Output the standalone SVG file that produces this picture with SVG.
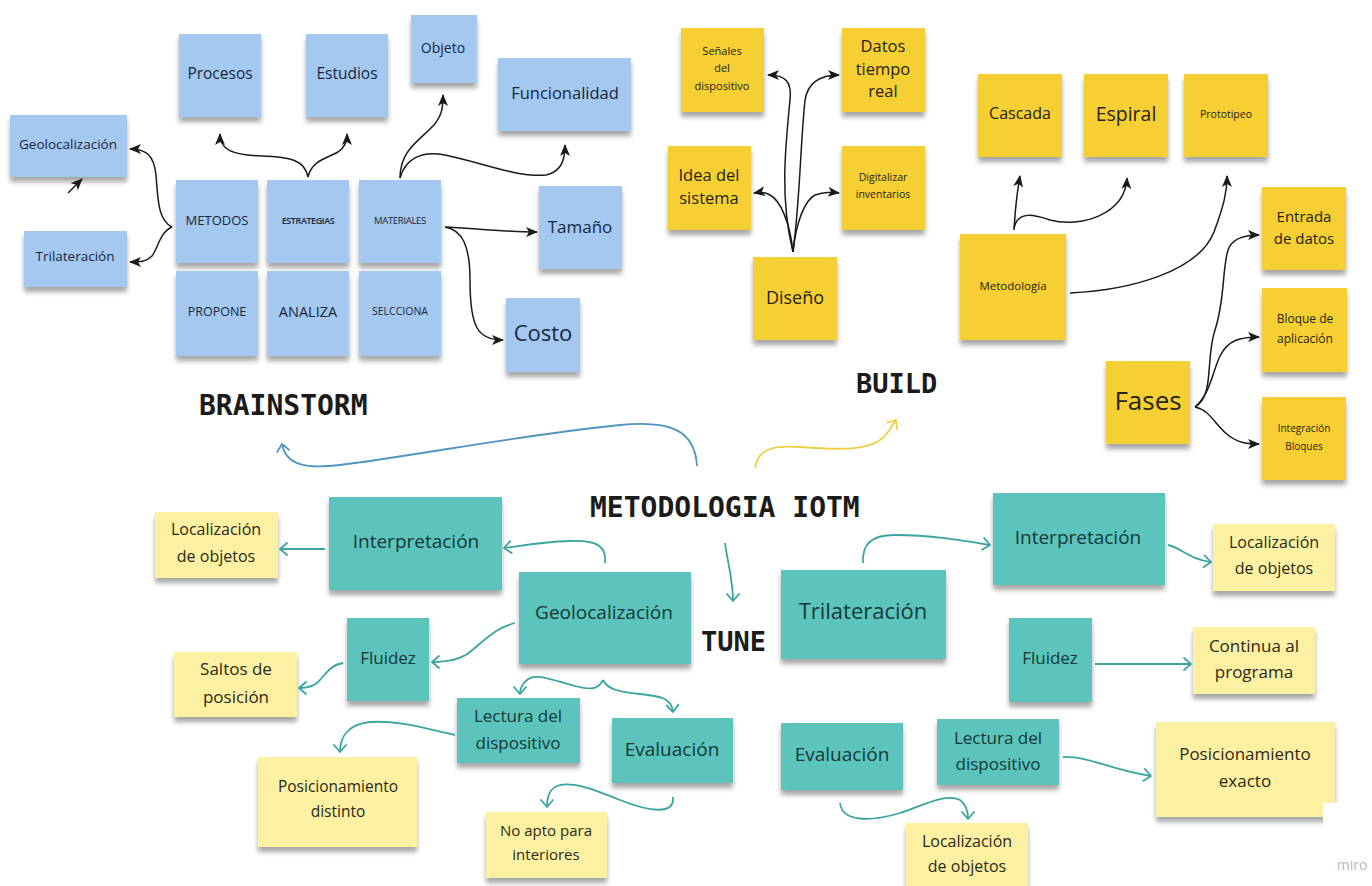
<svg xmlns="http://www.w3.org/2000/svg" width="1372" height="886" viewBox="0 0 1372 886">
  <defs>
    <filter id="shadow" x="-10%" y="-10%" width="120%" height="130%">
      <feGaussianBlur in="SourceAlpha" stdDeviation="2.5" result="b"/>
      <feOffset in="b" dx="0" dy="5" result="o"/>
      <feComponentTransfer in="o" result="s"><feFuncA type="linear" slope="0.35"/></feComponentTransfer>
      <feMerge><feMergeNode in="s"/><feMergeNode in="SourceGraphic"/></feMerge>
    </filter>
    <marker id="ah-black" markerUnits="userSpaceOnUse" markerWidth="12" markerHeight="10" refX="11" refY="5" orient="auto">
      <path d="M0,0 L12,5 L0,10 L3,5 z" fill="#1a1a1a"/>
    </marker>
    <marker id="ah-teal" markerUnits="userSpaceOnUse" markerWidth="12" markerHeight="14" refX="9" refY="7" orient="auto">
      <path d="M2,1 L9,7 L2,13" fill="none" stroke="#3aa5a0" stroke-width="1.8" stroke-linecap="round" stroke-linejoin="round"/>
    </marker>
    <marker id="ah-blue" markerUnits="userSpaceOnUse" markerWidth="12" markerHeight="14" refX="9" refY="7" orient="auto">
      <path d="M2,1 L9,7 L2,13" fill="none" stroke="#4f95bf" stroke-width="1.8" stroke-linecap="round" stroke-linejoin="round"/>
    </marker>
    <marker id="ah-yellow" markerUnits="userSpaceOnUse" markerWidth="12" markerHeight="14" refX="9" refY="7" orient="auto">
      <path d="M2,1 L9,7 L2,13" fill="none" stroke="#f0cf45" stroke-width="1.8" stroke-linecap="round" stroke-linejoin="round"/>
    </marker>
  </defs>
  <style>
    .note { filter: url(#shadow); }
    .blue { fill: #a4c8f0; }
    .gold { fill: #f6cf35; }
    .teal { fill: #5dc3bd; }
    .pale { fill: #fcf1a3; }
    text { font-family: "Open Sans", "Liberation Sans", sans-serif; text-anchor: middle; dominant-baseline: central; }
    .tb { fill: #17273d; }
    .ty { fill: #272310; }
    .tt { fill: #103a38; }
    .tp { fill: #2b2914; }
    .title { font-family: "DejaVu Sans Mono", "Liberation Mono", monospace; font-weight: bold; fill: #1b1b1b; text-anchor: start; dominant-baseline: alphabetic; }
    .cb { fill: none; stroke: #1a1a1a; stroke-width: 1.5; marker-end: url(#ah-black); }
    .ct { fill: none; stroke: #3aa5a0; stroke-width: 1.8; marker-end: url(#ah-teal); }
  </style>

  <rect width="1372" height="886" fill="#ffffff"/>

  <!-- section titles -->
  <text class="title" x="199" y="415" font-size="28">BRAINSTORM</text>
  <text class="title" x="856" y="393" font-size="27">BUILD</text>
  <text class="title" x="590" y="517" font-size="28">METODOLOGIA IOTM</text>
  <text class="title" x="701" y="651" font-size="27">TUNE</text>

  <!-- brainstorm notes -->
  <g id="procesos"><rect class="note blue" x="179" y="34" width="82" height="83"/><text class="tb" x="220" y="73" font-size="15.5">Procesos</text></g>
  <g id="estudios"><rect class="note blue" x="306" y="34" width="82" height="83"/><text class="tb" x="347" y="73" font-size="15.5">Estudios</text></g>
  <g id="objeto"><rect class="note blue" x="411" y="15" width="66" height="68"/><text class="tb" x="443" y="47" font-size="14">Objeto</text></g>
  <g id="funcionalidad"><rect class="note blue" x="498" y="58" width="133" height="73"/><text class="tb" x="565" y="92" font-size="16.5">Funcionalidad</text></g>
  <g id="geo-b"><rect class="note blue" x="10" y="115" width="117" height="62"/><text class="tb" x="68" y="144" font-size="13.5">Geolocalización</text></g>
  <g id="tri-b"><rect class="note blue" x="24" y="231" width="103" height="56"/><text class="tb" x="75" y="256" font-size="13.5">Trilateración</text></g>
  <g id="metodos"><rect class="note blue" x="176" y="180" width="82" height="83"/><text class="tb" x="217" y="220" font-size="13">METODOS</text></g>
  <g id="estrategias"><rect class="note blue" x="267" y="180" width="82" height="83"/><text class="tb" x="308" y="220" font-size="9" font-weight="600" letter-spacing="-0.4">ESTRATEGIAS</text></g>
  <g id="materiales"><rect class="note blue" x="359" y="180" width="82" height="83"/><text class="tb" x="400" y="220" font-size="9.5" letter-spacing="-0.3">MATERIALES</text></g>
  <g id="propone"><rect class="note blue" x="176" y="271" width="82" height="85"/><text class="tb" x="217" y="311" font-size="12.5">PROPONE</text></g>
  <g id="analiza"><rect class="note blue" x="267" y="271" width="82" height="85"/><text class="tb" x="308" y="311" font-size="14.5">ANALIZA</text></g>
  <g id="selcciona"><rect class="note blue" x="359" y="271" width="82" height="85"/><text class="tb" x="400" y="311" font-size="10.5">SELCCIONA</text></g>
  <g id="tamano"><rect class="note blue" x="539" y="186" width="83" height="83"/><text class="tb" x="580" y="226" font-size="17">Tamaño</text></g>
  <g id="costo"><rect class="note blue" x="506" y="298" width="74" height="74"/><text class="tb" x="543" y="332" font-size="22">Costo</text></g>

  <!-- build notes -->
  <g id="senales"><rect class="note gold" x="681" y="28" width="83" height="84"/><text class="ty" font-size="11"><tspan x="722" y="50">Señales</tspan><tspan x="722" y="67">del</tspan><tspan x="722" y="85">dispositivo</tspan></text></g>
  <g id="datos"><rect class="note gold" x="842" y="28" width="83" height="84"/><text class="ty" font-size="16.5"><tspan x="883" y="45">Datos</tspan><tspan x="883" y="68">tiempo</tspan><tspan x="883" y="90">real</tspan></text></g>
  <g id="idea"><rect class="note gold" x="668" y="146" width="83" height="84"/><text class="ty" font-size="16.5"><tspan x="709" y="174">Idea del</tspan><tspan x="709" y="197">sistema</tspan></text></g>
  <g id="digitalizar"><rect class="note gold" x="842" y="146" width="83" height="84"/><text class="ty" font-size="10.5"><tspan x="883" y="177">Digitalizar</tspan><tspan x="883" y="194">inventarios</tspan></text></g>
  <g id="diseno"><rect class="note gold" x="753" y="257" width="84" height="83"/><text class="ty" x="795" y="297" font-size="18">Diseño</text></g>
  <g id="cascada"><rect class="note gold" x="978" y="74" width="84" height="83"/><text class="ty" x="1020" y="113" font-size="16">Cascada</text></g>
  <g id="espiral"><rect class="note gold" x="1084" y="74" width="84" height="83"/><text class="ty" x="1126" y="113" font-size="19.5">Espiral</text></g>
  <g id="prototipeo"><rect class="note gold" x="1184" y="74" width="84" height="83"/><text class="ty" x="1226" y="114" font-size="10.5">Prototipeo</text></g>
  <g id="entrada"><rect class="note gold" x="1262" y="187" width="84" height="83"/><text class="ty" font-size="15"><tspan x="1304" y="216">Entrada</tspan><tspan x="1304" y="238">de datos</tspan></text></g>
  <g id="metodologia"><rect class="note gold" x="960" y="234" width="106" height="106"/><text class="ty" x="1013" y="285" font-size="11.5">Metodología</text></g>
  <g id="bloque"><rect class="note gold" x="1262" y="288" width="85" height="84"/><text class="ty" font-size="12"><tspan x="1305" y="318">Bloque de</tspan><tspan x="1305" y="338">aplicación</tspan></text></g>
  <g id="fases"><rect class="note gold" x="1106" y="361" width="84" height="83"/><text class="ty" x="1148" y="400" font-size="26">Fases</text></g>
  <g id="integracion"><rect class="note gold" x="1262" y="397" width="84" height="83"/><text class="ty" font-size="10"><tspan x="1304" y="428">Integración</tspan><tspan x="1304" y="446">Bloques</tspan></text></g>

  <!-- tune notes -->
  <g id="interp-l"><rect class="note teal" x="329" y="497" width="173" height="93"/><text class="tt" x="416" y="541" font-size="19">Interpretación</text></g>
  <g id="geo-t"><rect class="note teal" x="519" y="572" width="172" height="92"/><text class="tt" x="604" y="612" font-size="19">Geolocalización</text></g>
  <g id="fluidez-l"><rect class="note teal" x="347" y="618" width="82" height="83"/><text class="tt" x="388" y="657" font-size="17">Fluidez</text></g>
  <g id="lectura-l"><rect class="note teal" x="457" y="698" width="123" height="65"/><text class="tt" font-size="17"><tspan x="518" y="715">Lectura del</tspan><tspan x="518" y="742">dispositivo</tspan></text></g>
  <g id="eval-l"><rect class="note teal" x="612" y="718" width="121" height="65"/><text class="tt" x="672" y="749" font-size="19">Evaluación</text></g>
  <g id="tri-t"><rect class="note teal" x="781" y="570" width="165" height="89"/><text class="tt" x="863" y="610" font-size="22">Trilateración</text></g>
  <g id="interp-r"><rect class="note teal" x="993" y="493" width="172" height="92"/><text class="tt" x="1078" y="537" font-size="19">Interpretación</text></g>
  <g id="fluidez-r"><rect class="note teal" x="1009" y="618" width="83" height="84"/><text class="tt" x="1050" y="657" font-size="17">Fluidez</text></g>
  <g id="eval-r"><rect class="note teal" x="781" y="723" width="122" height="67"/><text class="tt" x="842" y="754" font-size="19">Evaluación</text></g>
  <g id="lectura-r"><rect class="note teal" x="937" y="719" width="122" height="66"/><text class="tt" font-size="17"><tspan x="998" y="737">Lectura del</tspan><tspan x="998" y="763">dispositivo</tspan></text></g>

  <!-- result notes -->
  <g id="loc-l"><rect class="note pale" x="155" y="512" width="123" height="66"/><text class="tp" font-size="16"><tspan x="216" y="529">Localización</tspan><tspan x="216" y="556">de objetos</tspan></text></g>
  <g id="saltos"><rect class="note pale" x="174" y="652" width="123" height="65"/><text class="tp" font-size="17"><tspan x="236" y="668">Saltos de</tspan><tspan x="236" y="696">posición</tspan></text></g>
  <g id="pos-distinto"><rect class="note pale" x="258" y="757" width="159" height="90"/><text class="tp" font-size="15.5"><tspan x="338" y="786">Posicionamiento</tspan><tspan x="338" y="811">distinto</tspan></text></g>
  <g id="no-apto"><rect class="note pale" x="486" y="812" width="121" height="66"/><text class="tp" font-size="15"><tspan x="546" y="830">No apto para</tspan><tspan x="546" y="854">interiores</tspan></text></g>
  <g id="loc-r"><rect class="note pale" x="1213" y="524" width="122" height="67"/><text class="tp" font-size="16"><tspan x="1274" y="542">Localización</tspan><tspan x="1274" y="568">de objetos</tspan></text></g>
  <g id="continua"><rect class="note pale" x="1193" y="627" width="122" height="67"/><text class="tp" font-size="17"><tspan x="1254" y="645">Continua al</tspan><tspan x="1254" y="671">programa</tspan></text></g>
  <g id="pos-exacto"><rect class="note pale" x="1156" y="722" width="179" height="95"/><text class="tp" font-size="17"><tspan x="1245" y="753">Posicionamiento</tspan><tspan x="1245" y="780">exacto</tspan></text></g>
  <g id="loc-b"><rect class="note pale" x="906" y="823" width="122" height="66"/><text class="tp" font-size="16"><tspan x="967" y="841">Localización</tspan><tspan x="967" y="866">de objetos</tspan></text></g>

  <!-- white patch over the lower right corner -->
  <rect x="1323" y="803" width="49" height="40" fill="#ffffff"/>
  <text x="1352" y="864" font-size="14" fill="#b9b9b9">miro</text>

  <!-- connectors -->
  <g id="connectors">
    <!-- brainstorm -->
    <path class="cb" d="M172,227 C158,220 158,200 156,175 C154,155 146,149 130,149"/>
    <path class="cb" d="M172,227 C160,232 158,248 152,256 C146,262 140,262 130,262"/>
    <path class="cb" d="M68,193 L82,179"/>
    <path class="cb" d="M308,177 C305,160 290,157 262,156 C232,155 220,150 220,134"/>
    <path class="cb" d="M308,177 C312,160 328,158 338,152 C345,147 347,142 347,134"/>
    <path class="cb" d="M400,178 C400,150 420,140 434,125 C442,115 443,108 443,95"/>
    <path class="cb" d="M400,178 C405,160 420,150 445,155 C480,162 518,178 546,175 C560,172 565,162 565,145"/>
    <path class="cb" d="M445,227 C470,228 505,232 537,232"/>
    <path class="cb" d="M445,227 C462,230 470,245 470,280 C470,328 478,340 503,340"/>
    <!-- build -->
    <path class="cb" d="M793,252 C780,200 785,150 790,100 C792,82 786,75 768,75"/>
    <path class="cb" d="M793,252 C800,200 800,150 805,100 C808,82 820,75 839,75"/>
    <path class="cb" d="M793,252 C790,222 780,200 770,195 C765,192 760,192 754,193"/>
    <path class="cb" d="M793,252 C796,222 805,200 815,195 C825,192 830,192 839,193"/>
    <path class="cb" d="M1014,230 C1015,212 1016,198 1020,176"/>
    <path class="cb" d="M1014,228 C1018,210 1035,215 1050,220 C1080,228 1125,215 1127,178"/>
    <path class="cb" d="M1070,293 C1130,290 1198,272 1214,232 C1224,205 1227,192 1227,176"/>
    <path class="cb" d="M1195,407 C1215,395 1205,360 1215,330 C1225,300 1222,270 1228,250 C1232,238 1245,235 1259,235"/>
    <path class="cb" d="M1195,407 C1210,395 1213,370 1220,356 C1228,340 1240,337 1259,337"/>
    <path class="cb" d="M1195,407 C1210,410 1215,425 1228,435 C1238,443 1248,444 1259,444"/>
    <!-- section links -->
    <path d="M697,466 C695,430 670,420 620,425 C520,435 420,455 340,465 C300,470 285,462 282,444" fill="none" stroke="#4f95bf" stroke-width="1.8" marker-end="url(#ah-blue)"/>
    <path d="M755,468 C758,450 770,445 800,447 C840,450 875,452 888,432 L896,420" fill="none" stroke="#f0cf45" stroke-width="1.8" marker-end="url(#ah-yellow)"/>
    <!-- tune -->
    <path class="ct" d="M725,543 C728,565 733,580 733,601"/>
    <path class="ct" d="M605,563 C607,545 595,540 570,541 C540,542 520,546 504,548"/>
    <path class="ct" d="M325,549 L280,549"/>
    <path class="ct" d="M515,623 C495,628 485,640 470,652 C460,660 445,662 432,662"/>
    <path class="ct" d="M343,663 C330,665 325,675 318,682 C313,687 305,688 299,688"/>
    <path class="ct" d="M603,680 C598,690 590,690 575,686 C555,681 535,672 527,680 C522,684 520,688 520,694"/>
    <path class="ct" d="M603,680 C608,690 620,692 640,694 C660,696 672,698 673,712"/>
    <path class="ct" d="M455,735 C430,730 400,720 370,722 C350,724 340,735 340,752"/>
    <path class="ct" d="M673,797 C675,815 650,812 620,800 C595,790 575,782 560,785 C550,788 547,795 547,807"/>
    <path class="ct" d="M863,563 C862,545 870,535 895,535 C930,535 960,540 990,545"/>
    <path class="ct" d="M1168,545 C1180,547 1190,560 1211,562"/>
    <path class="ct" d="M1095,664 L1191,664"/>
    <path class="ct" d="M1063,757 C1090,756 1110,770 1151,776"/>
    <path class="ct" d="M840,803 C842,822 870,822 900,813 C925,805 945,793 960,800 C967,805 968,812 968,819"/>
  </g>
</svg>
